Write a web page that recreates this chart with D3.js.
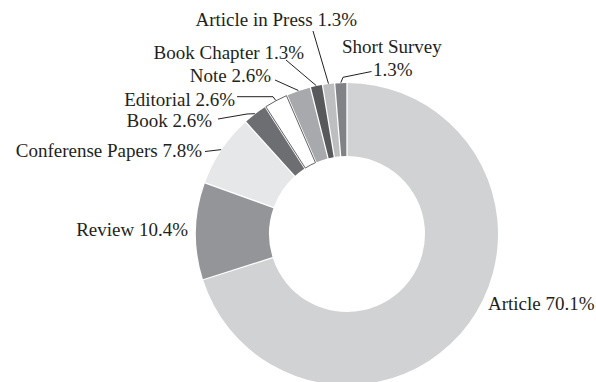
<!DOCTYPE html>
<html>
<head>
<meta charset="utf-8">
<script src="https://cdn.jsdelivr.net/npm/d3@7"></script>
<style>
  html, body { margin: 0; padding: 0; background: #fff; }
  svg { display: block; }
  text { font-family: "Liberation Serif", "DejaVu Serif", serif; fill: #231f20; font-size: 19px; }
</style>
</head>
<body>
<svg id="chart" width="596" height="382"></svg>
<script>
// Document types (share of publications, %), clockwise from 12 o'clock
const categories = ["Article", "Review", "Conferense Papers", "Book", "Editorial",
                    "Note", "Book Chapter", "Article in Press", "Short Survey"];
const shares = [70.1, 10.4, 7.8, 2.6, 2.6, 2.6, 1.3, 1.3, 1.3];
const fills = ["#d1d2d4", "#939598", "#e6e7e8", "#6d6e71", "#ffffff",
               "#a7a9ac", "#58595b", "#bcbec0", "#808285"];

// Label placement: text anchor point and leader-line path (start, optional elbow);
// the leader always ends on the outer edge of its slice.
const labelLayout = [
  { x: 594.5, y: 310, anchor: "end" },
  { x: 188, y: 236, anchor: "end" },
  { x: 202, y: 157, anchor: "end", lead: [[205, 151.5]] },
  { x: 212, y: 127, anchor: "end", lead: [[218, 119], [247, 114]] },
  { x: 235, y: 106, anchor: "end", lead: [[237, 96.7], [273, 96.7]] },
  { x: 271, y: 82,  anchor: "end", lead: [[275, 80]] },
  { x: 304, y: 59,  anchor: "end", lead: [[286, 60]] },
  { x: 357, y: 26,  anchor: "end", lead: [[313, 31]] },
  { x: 342, y: 53,  anchor: "start", lines: true, dx2: 31, dy2: 23,
    lead: [[371.5, 71.5], [343, 77.3]] }
];

const cx = 347, cy = 234;
const outerR = 151, innerR = 78;

const svg = d3.select("#chart");
const g = svg.append("g").attr("transform", `translate(${cx},${cy})`);

const pie = d3.pie().sort(null).value(d => d);
const arcs = pie(shares);

const arc = d3.arc()
  .innerRadius(innerR)
  .outerRadius(outerR)
  .padAngle(0.0075);

g.selectAll("path.slice")
  .data(arcs)
  .join("path")
  .attr("class", "slice")
  .attr("d", arc)
  .attr("fill", (d, i) => fills[i])
  .attr("stroke", (d, i) => fills[i] === "#ffffff" ? "#3a3a3c" : "none")
  .attr("stroke-width", 0.8);

// point on the slice's outer edge at its mid angle
function edgePoint(d, r) {
  const a = (d.startAngle + d.endAngle) / 2;
  return [cx + r * Math.sin(a), cy - r * Math.cos(a)];
}

const line = d3.line();
const labels = svg.append("g");

arcs.forEach((d, i) => {
  const L = labelLayout[i];
  if (L.lines) {
    const t = labels.append("text")
      .attr("x", L.x).attr("y", L.y)
      .attr("text-anchor", L.anchor);
    t.append("tspan").attr("x", L.x).text(categories[i]);
    t.append("tspan").attr("x", L.x + L.dx2).attr("dy", L.dy2).text(`${shares[i]}%`);
  } else {
    labels.append("text")
      .attr("x", L.x).attr("y", L.y)
      .attr("text-anchor", L.anchor)
      .text(`${categories[i]} ${shares[i]}%`);
  }
  if (L.lead) {
    const pts = L.lead.concat([edgePoint(d, outerR + 0.5)]);
    labels.append("path")
      .attr("d", line(pts))
      .attr("fill", "none")
      .attr("stroke", "#231f20")
      .attr("stroke-width", 1);
  }
});
</script>
</body>
</html>
